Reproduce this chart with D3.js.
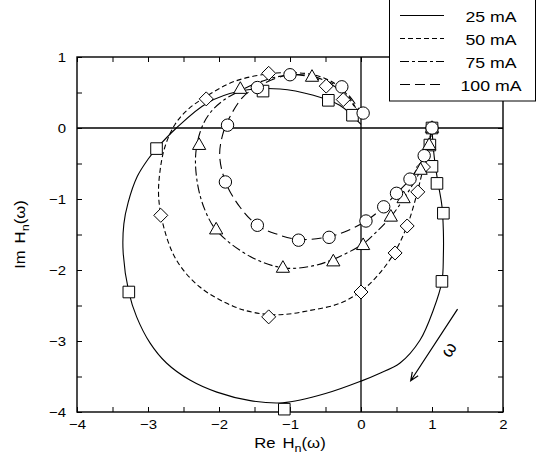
<!DOCTYPE html>
<html>
<head>
<meta charset="utf-8">
<script src="https://cdn.jsdelivr.net/npm/d3@7"></script>
<style>
  body { margin: 0; background: #fff; }
  svg { display: block; font-family: "Liberation Sans", Arial, sans-serif; }
  .tick text { font-size: 13px; fill: #000; }
  .tick line { stroke: #000; stroke-width: 1; }
</style>
</head>
<body>
<div id="chart"></div>
<script>
"use strict";

// series labels (legend order)
var seriesNames = ["25 mA", "50 mA", "75 mA", "100 mA"];

// fitted curves: [Re, Im]
var curve25 = [[1.0,0.0],[1.02,-0.3],[1.05,-0.55],[1.09,-0.8],[1.14,-1.1],[1.16,-1.45],[1.16,-1.8],[1.14,-2.16],
  [1.02,-2.56],[0.83,-2.99],[0.55,-3.31],[0.25,-3.46],[0.0,-3.565],[-0.5,-3.74],[-1.1,-3.87],[-1.56,-3.84],
  [-2.03,-3.72],[-2.41,-3.55],[-2.74,-3.31],[-2.97,-3.03],[-3.16,-2.66],[-3.27,-2.31],[-3.35,-1.75],
  [-3.34,-1.35],[-3.28,-1.05],[-3.15,-0.68],[-3.0,-0.44],[-2.88,-0.29],[-2.6,0.0],[-2.17,0.35],[-1.70,0.52],
  [-1.14,0.55],[-0.67,0.46],[-0.30,0.32],[0.0,0.05]];
var curve50 = [[1.0,0.0],[0.95,-0.28],[0.88,-0.55],[0.80,-0.88],[0.66,-1.35],[0.48,-1.74],[0.25,-2.06],[0.0,-2.30],
  [-0.3,-2.47],[-0.72,-2.57],[-1.14,-2.63],[-1.5,-2.6],[-1.80,-2.51],[-2.27,-2.24],[-2.6,-1.86],
  [-2.78,-1.39],[-2.85,-0.97],[-2.83,-0.6],[-2.76,-0.26],[-2.62,0.05],[-2.45,0.25],[-2.22,0.42],[-1.80,0.65],
  [-1.33,0.76],[-1.0,0.78],[-0.67,0.75],[-0.39,0.64],[-0.18,0.45],[-0.02,0.18]];
var curve75 = [[1.0,0.0],[0.96,-0.24],[0.84,-0.59],[0.62,-0.97],[0.42,-1.25],[0.2,-1.48],[0.03,-1.63],[-0.39,-1.85],
  [-0.72,-1.95],[-1.1,-1.97],[-1.56,-1.81],[-2.03,-1.45],[-2.2,-1.15],[-2.3,-0.8],[-2.33,-0.4],[-2.27,-0.07],
  [-2.15,0.18],[-1.95,0.38],[-1.61,0.57],[-1.33,0.68],[-1.0,0.75],[-0.69,0.73],[-0.44,0.63],[-0.2,0.44],[-0.02,0.2]];
var curve100 = [[1.0,0.0],[0.89,-0.39],[0.69,-0.72],[0.50,-0.92],[0.32,-1.11],[0.07,-1.31],[-0.2,-1.45],[-0.45,-1.53],
  [-0.88,-1.57],[-1.2,-1.49],[-1.46,-1.37],[-1.7,-1.12],[-1.9,-0.78],[-1.99,-0.4],[-1.95,-0.1],[-1.85,0.15],
  [-1.66,0.44],[-1.46,0.58],[-1.0,0.75],[-0.58,0.68],[-0.27,0.56],[0.02,0.19]];

// measured points: [Re, Im]
var points25 = [[1,0],[0.97,-0.24],[1.0,-0.54],[1.07,-0.78],[1.16,-1.2],[1.14,-2.16],[-1.08,-3.96],
  [-3.27,-2.31],[-2.88,-0.29],[-1.38,0.52],[-0.46,0.39],[-0.12,0.18]];
var points50 = [[1,0],[0.88,-0.55],[0.80,-0.9],[0.65,-1.38],[0.48,-1.76],[0.0,-2.31],[-1.30,-2.66],
  [-2.82,-1.23],[-2.18,0.41],[-1.3,0.77],[-0.49,0.59],[-0.25,0.40]];
var points75 = [[1,0],[0.96,-0.24],[0.84,-0.59],[0.60,-0.99],[0.42,-1.25],[0.03,-1.65],[-0.39,-1.88],
  [-1.10,-1.97],[-2.04,-1.43],[-2.28,-0.24],[-1.70,0.55],[-0.69,0.72]];
var points100 = [[1,0],[0.89,-0.39],[0.69,-0.72],[0.50,-0.92],[0.32,-1.11],[0.07,-1.31],[-0.45,-1.54],
  [-0.88,-1.58],[-1.46,-1.37],[-1.91,-0.76],[-1.88,0.04],[-1.46,0.57],[-1.0,0.75],[-0.27,0.58],[0.03,0.21]];

// ticks
var xMajor = [-4, -3, -2, -1, 0, 1, 2];
var xMinor = [-3.5, -2.5, -1.5, -0.5, 0.5, 1.5];
var yMajor = [1, 0, -1, -2, -3, -4];
var yMinor = [0.5, -0.5, -1.5, -2.5, -3.5];

// direction arrow (from, to) and its label position
var arrowFrom = [1.36, -2.55], arrowTo = [0.70, -3.56], arrowLabel = [1.23, -3.12];

var curves = [curve25, curve50, curve75, curve100];
var points = [points25, points50, points75, points100];
var dashes = [null, "5,3", "9,3,3,3", "10,5"];
var symbols = ["square", "diamond", "triangle", "circle"];

var W = 539, H = 461;
var margin = { top: 57, right: 36, bottom: 49, left: 77 };
var width = W - margin.left - margin.right,
    height = H - margin.top - margin.bottom;

// the lettering of the original is a little wide
var stretch = 1.15;

var svg = d3.select("#chart").append("svg")
  .attr("width", W).attr("height", H);

var g = svg.append("g")
  .attr("transform", "translate(" + margin.left + "," + margin.top + ")");

var x = d3.scaleLinear().domain([-4, 2]).range([0, width]);
var y = d3.scaleLinear().domain([-4, 1]).range([height, 0]);

var fmt = d3.format("d");

/*
 * Axes: inward ticks on all four sides, labels left and bottom only
 */
function clean(sel) { sel.select(".domain").remove(); }

g.append("g").attr("transform", "translate(0," + height + ")")
  .call(d3.axisBottom(x).tickValues(xMajor).tickFormat(fmt).tickSize(-5).tickPadding(8))
  .call(clean)
  .call(function (a) { a.selectAll("text").attr("transform", "scale(" + stretch + ",1)"); });
g.append("g").attr("transform", "translate(0," + height + ")")
  .call(d3.axisBottom(x).tickValues(xMinor).tickSize(-5).tickFormat("")).call(clean);
g.append("g")
  .call(d3.axisLeft(y).tickValues(yMajor).tickFormat(fmt).tickSize(-5).tickPadding(11))
  .call(clean)
  .call(function (a) {
    a.selectAll("text").attr("x", -11 / stretch).attr("transform", "scale(" + stretch + ",1)");
  });
g.append("g")
  .call(d3.axisLeft(y).tickValues(yMinor).tickSize(-5).tickFormat("")).call(clean);
g.append("g")
  .call(d3.axisTop(x).tickValues(xMajor.concat(xMinor)).tickSize(-5).tickFormat("")).call(clean);
g.append("g").attr("transform", "translate(" + width + ",0)")
  .call(d3.axisRight(y).tickValues(yMajor.concat(yMinor)).tickSize(-5).tickFormat("")).call(clean);

// frame
g.append("rect")
  .attr("width", width).attr("height", height)
  .attr("fill", "none").attr("stroke", "#000").attr("stroke-width", 1.4);

// zero lines
g.append("line")
  .attr("x1", 0).attr("x2", width).attr("y1", y(0)).attr("y2", y(0))
  .attr("stroke", "#000").attr("stroke-width", 1.3);
g.append("line")
  .attr("x1", x(0)).attr("x2", x(0)).attr("y1", 0).attr("y2", height)
  .attr("stroke", "#000").attr("stroke-width", 1.3);

/*
 * Curves
 */
var line = d3.line()
  .x(function (d) { return x(d[0]); })
  .y(function (d) { return y(d[1]); })
  .curve(d3.curveCatmullRom.alpha(0.5));

curves.forEach(function (c, i) {
  g.append("path")
    .attr("d", line(c))
    .attr("fill", "none")
    .attr("stroke", "#000")
    .attr("stroke-width", 1.1)
    .attr("stroke-dasharray", dashes[i]);
});

/*
 * Markers (open symbols)
 */
function symbolPath(type) {
  if (type === "square") return "M-5.8,-5.8H5.8V5.8H-5.8Z";
  if (type === "diamond") return "M0,-7L7,0L0,7L-7,0Z";
  if (type === "triangle") return "M0,-7.2L6.6,4.4L-6.6,4.4Z";
  return "M6.2,0A6.2,6.2 0 1,1 -6.2,0A6.2,6.2 0 1,1 6.2,0Z";
}

points.forEach(function (pts, i) {
  g.selectAll(".m" + i)
    .data(pts)
    .enter()
    .append("path")
    .attr("class", "m" + i)
    .attr("d", symbolPath(symbols[i]))
    .attr("transform", function (d) { return "translate(" + x(d[0]) + "," + y(d[1]) + ")"; })
    .attr("fill", "#fff")
    .attr("stroke", "#000")
    .attr("stroke-width", 1);
});

/*
 * Arrow showing increasing frequency
 */
var ax0 = x(arrowFrom[0]), ay0 = y(arrowFrom[1]),
    ax1 = x(arrowTo[0]), ay1 = y(arrowTo[1]);
var ang = Math.atan2(ay1 - ay0, ax1 - ax0);
var head = 9, spread = 0.4;
g.append("path")
  .attr("d", "M" + ax0 + "," + ay0 + "L" + ax1 + "," + ay1 +
    "M" + (ax1 - head * Math.cos(ang - spread)) + "," + (ay1 - head * Math.sin(ang - spread)) +
    "L" + ax1 + "," + ay1 +
    "L" + (ax1 - head * Math.cos(ang + spread)) + "," + (ay1 - head * Math.sin(ang + spread)))
  .attr("fill", "none").attr("stroke", "#000").attr("stroke-width", 1.2);

g.append("text")
  .attr("transform", "translate(" + x(arrowLabel[0]) + "," + y(arrowLabel[1]) + ") rotate(" +
    (Math.atan2(ay0 - ay1, ax0 - ax1) * 180 / Math.PI) + ")")
  .attr("text-anchor", "middle")
  .attr("dy", "0.35em")
  .style("font-size", "18px")
  .text("ω");

/*
 * Axis titles
 */
function titleParts(t, prefix) {
  t.append("tspan").text(prefix);
  t.append("tspan").attr("dx", 6).text("H");
  t.append("tspan").attr("dy", 4).style("font-size", "11px").text("n");
  t.append("tspan").attr("dy", -4).text("(ω)");
}

var xt = svg.append("text")
  .attr("transform", "translate(" + (margin.left + width / 2) + ",448) scale(" + stretch + ",1)")
  .attr("text-anchor", "middle").style("font-size", "14.5px");
titleParts(xt, "Re");

var yt = svg.append("text")
  .attr("transform", "translate(25," + (margin.top + height / 2) + ") rotate(-90) scale(" + stretch + ",1)")
  .attr("text-anchor", "middle").style("font-size", "14.5px");
titleParts(yt, "Im");

/*
 * Legend
 */
var legend = svg.append("g");
legend.append("rect")
  .attr("x", 389.5).attr("y", -5).attr("width", 146).attr("height", 106)
  .attr("fill", "#fff").attr("stroke", "#000").attr("stroke-width", 1);

seriesNames.forEach(function (name, i) {
  var ly = 15.5 + i * 23;
  legend.append("line")
    .attr("x1", 400).attr("x2", 444).attr("y1", ly).attr("y2", ly)
    .attr("stroke", "#000").attr("stroke-width", 1.1)
    .attr("stroke-dasharray", dashes[i]);
  legend.append("text")
    .attr("transform", "translate(491," + (ly + 1.5) + ") scale(1.18,1)")
    .attr("dy", "0.35em")
    .attr("text-anchor", "middle").style("font-size", "15px")
    .text(name);
});
</script>
</body>
</html>
